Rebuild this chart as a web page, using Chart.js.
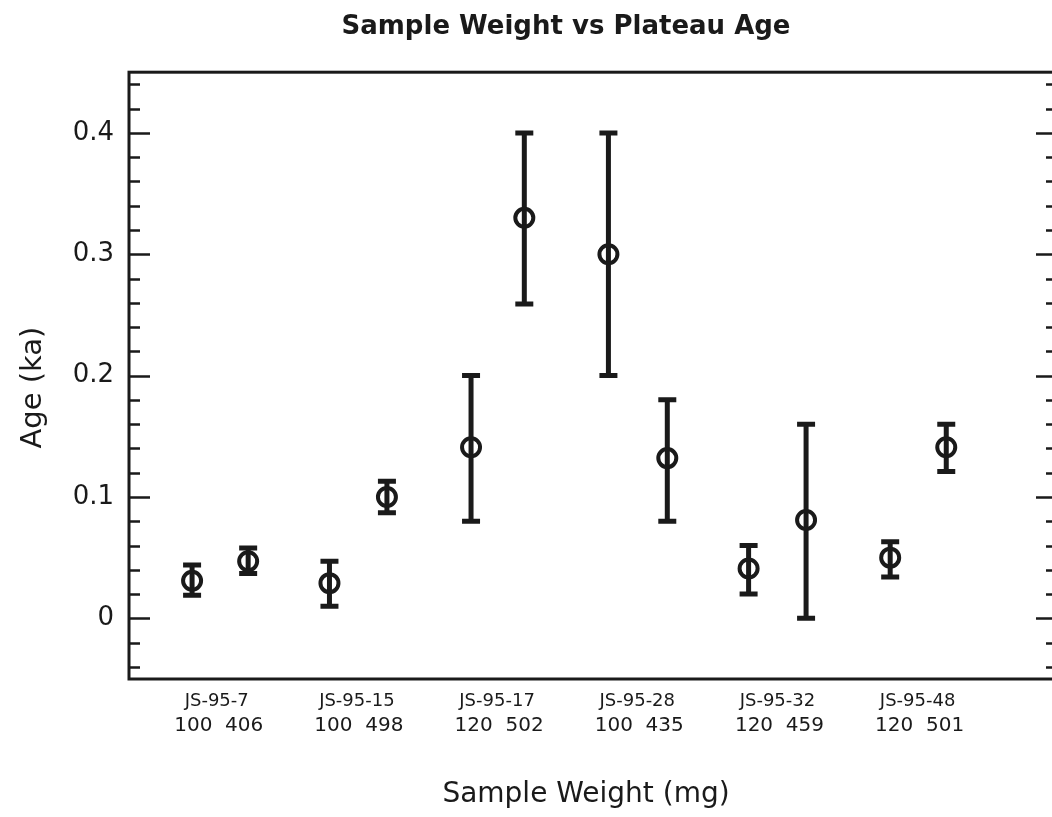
<!DOCTYPE html>
<html>
<head>
<meta charset="utf-8">
<title>Sample Weight vs Plateau Age</title>
<script src="https://cdn.jsdelivr.net/npm/chart.js@4.4.0/dist/chart.umd.min.js"></script>
<style>
  html, body { margin: 0; padding: 0; background: #fff; overflow: hidden; }
  #wrap { width: 1132px; height: 817px; }
</style>
</head>
<body>
<div id="wrap"><canvas id="ageChart" width="1132" height="817"></canvas></div>
<script>
// samples along the x axis, each run at two weights
const sampleNames = ['JS-95-7', 'JS-95-15', 'JS-95-17', 'JS-95-28', 'JS-95-32', 'JS-95-48'];
const sampleWeights = ['100  406', '100  498', '120  502', '100  435', '120  459', '120  501'];
const samplePos = [1, 2, 3, 4, 5, 6];

// one point per run
const pointPos = [0.81, 1.21, 1.79, 2.2, 2.8, 3.18, 3.78, 4.2, 4.78, 5.19, 5.79, 6.19];
const ages    = [0.031, 0.047, 0.029, 0.100, 0.141, 0.330, 0.300, 0.132, 0.041, 0.081, 0.050, 0.141];
const ageLow  = [0.019, 0.037, 0.010, 0.087, 0.080, 0.259, 0.200, 0.080, 0.020, 0.000, 0.034, 0.121];
const ageHigh = [0.044, 0.058, 0.047, 0.113, 0.200, 0.400, 0.400, 0.180, 0.060, 0.160, 0.063, 0.160];

const yTickValues = [0, 0.1, 0.2, 0.3, 0.4];
const yMinorStep = 0.02;

const xTitle = 'Sample Weight (mg)';
const yTitle = 'Age (ka)';

const ink = '#1a1a1a';
const font = "'DejaVu Sans', sans-serif";

const errorBars = {
  id: 'errorBars',
  beforeDatasetsDraw(chart) {
    const { ctx, scales: { x, y } } = chart;
    ctx.save();
    ctx.strokeStyle = ink;
    ctx.lineWidth = 5;
    ctx.lineCap = 'butt';
    pointPos.forEach((p, i) => {
      const px = x.getPixelForValue(p);
      const top = y.getPixelForValue(ageHigh[i]);
      const bot = y.getPixelForValue(ageLow[i]);
      ctx.beginPath();
      ctx.moveTo(px, top);
      ctx.lineTo(px, bot);
      ctx.moveTo(px - 9, top);
      ctx.lineTo(px + 9, top);
      ctx.moveTo(px - 9, bot);
      ctx.lineTo(px + 9, bot);
      ctx.stroke();
    });
    ctx.restore();
  }
};

// box around the plot with inward ticks on both sides
const frame = {
  id: 'frame',
  afterDatasetsDraw(chart) {
    const { ctx, chartArea: a, scales: { y } } = chart;
    ctx.save();
    ctx.strokeStyle = ink;
    ctx.lineWidth = 3;
    ctx.strokeRect(a.left, a.top, a.right - a.left, a.bottom - a.top);
    ctx.lineWidth = 2.5;
    const n0 = Math.ceil(y.min / yMinorStep);
    const n1 = Math.floor(y.max / yMinorStep);
    for (let n = n0; n <= n1; n++) {
      const v = n * yMinorStep;
      const major = n % 5 === 0;
      const len = major ? 21 : 11;
      const py = Math.round(y.getPixelForValue(v)) + 0.5;
      ctx.beginPath();
      ctx.moveTo(a.left, py);
      ctx.lineTo(a.left + len, py);
      ctx.moveTo(a.right, py);
      ctx.lineTo(a.right - len, py);
      ctx.stroke();
    }
    ctx.restore();
  }
};

// sample labels and axis titles
const axisText = {
  id: 'axisText',
  afterDraw(chart) {
    const { ctx, chartArea: a, scales: { x } } = chart;
    ctx.save();
    ctx.fillStyle = ink;
    ctx.textAlign = 'center';
    ctx.textBaseline = 'middle';
    samplePos.forEach((p, i) => {
      const px = x.getPixelForValue(p);
      ctx.font = '18px ' + font;
      ctx.fillText(sampleNames[i], px - 2, a.bottom + 22);
      ctx.font = '20px ' + font;
      ctx.fillText(sampleWeights[i], px, a.bottom + 47);
    });

    ctx.font = '28px ' + font;
    ctx.fillText(xTitle, (a.left + a.right) / 2 - 7, a.bottom + 116);

    ctx.font = '29px ' + font;
    ctx.translate(a.left - 96, (a.top + a.bottom) / 2 + 12);
    ctx.rotate(-Math.PI / 2);
    ctx.fillText(yTitle, 0, 0);
    ctx.restore();
  }
};

new Chart(document.getElementById('ageChart'), {
  type: 'scatter',
  data: {
    datasets: [{
      data: pointPos.map((p, i) => ({ x: p, y: ages[i] })),
      pointStyle: 'circle',
      pointRadius: 9,
      pointHoverRadius: 9,
      borderWidth: 4,
      borderColor: ink,
      backgroundColor: 'rgba(0,0,0,0)'
    }]
  },
  options: {
    responsive: false,
    animation: false,
    events: [],
    layout: { padding: 0 },
    plugins: {
      legend: { display: false },
      tooltip: { enabled: false },
      title: {
        display: true,
        text: 'Sample Weight vs Plateau Age',
        color: ink,
        font: { family: font, size: 26, weight: 'bold' },
        padding: { top: 12, bottom: 29 }
      }
    },
    scales: {
      x: {
        type: 'linear',
        min: 0.36,
        max: 6.98,
        grid: { display: false },
        border: { display: false },
        ticks: { display: false },
        afterFit(scale) { scale.height = 138; }
      },
      y: {
        min: -0.05,
        max: 0.45,
        grid: { display: false },
        border: { display: false },
        afterBuildTicks(scale) {
          scale.ticks = yTickValues.map(v => ({ value: v }));
        },
        ticks: {
          color: ink,
          padding: 7,
          font: { family: font, size: 26 },
          callback: v => String(v)
        },
        afterFit(scale) { scale.width = 129; }
      },
      yRight: {
        position: 'right',
        min: 0,
        max: 1,
        grid: { display: false },
        border: { display: false },
        ticks: { display: false },
        afterFit(scale) { scale.width = 75; }
      }
    }
  },
  plugins: [errorBars, frame, axisText]
});
</script>
</body>
</html>
